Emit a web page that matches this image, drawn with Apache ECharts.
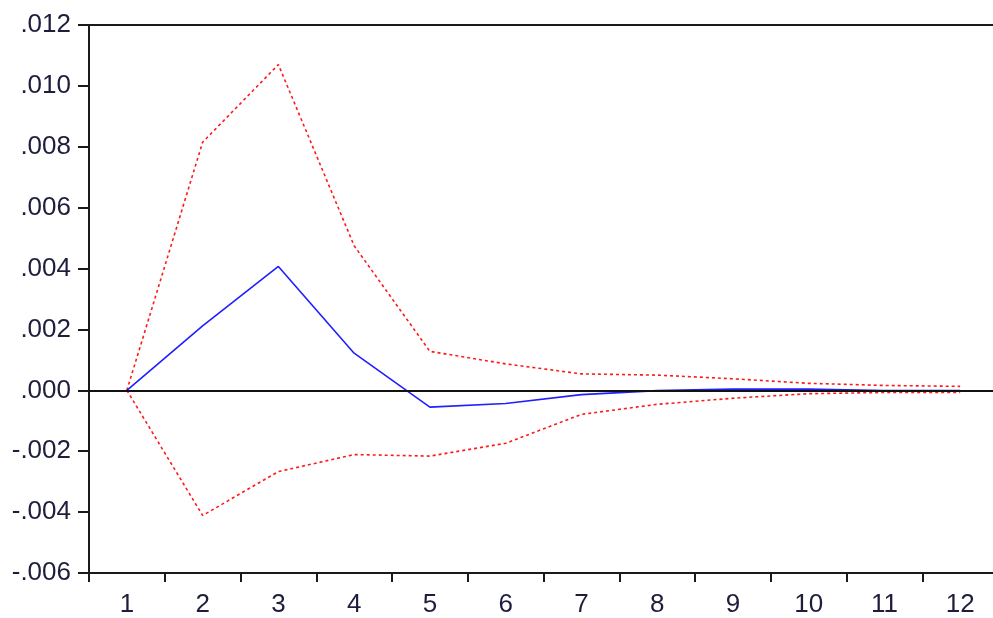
<!DOCTYPE html>
<html>
<head>
<meta charset="utf-8">
<script src="https://cdn.jsdelivr.net/npm/echarts@6/dist/echarts.min.js"></script>
<style>
  html, body { margin: 0; padding: 0; background: #fff; }
  #chart { width: 993px; height: 618px; }
</style>
</head>
<body>
<div id="chart"></div>
<script>
const periods = ['1', '2', '3', '4', '5', '6', '7', '8', '9', '10', '11', '12'];
const response = [0, 0.00212, 0.00407, 0.00122, -0.00055, -0.00043, -0.00014, -0.00001, 0.00004, 0.00004, -0.00001, -0.00001];
const upperBand = [0, 0.00815, 0.01070, 0.00475, 0.00128, 0.00087, 0.00054, 0.00050, 0.00038, 0.00023, 0.00016, 0.00013];
const lowerBand = [0, -0.00411, -0.00267, -0.00211, -0.00216, -0.00174, -0.00079, -0.00046, -0.00026, -0.00011, -0.00007, -0.00007];

let myChart = echarts.init(document.getElementById('chart'));

const dotted = {
    type: 'line',
    symbol: 'none',
    silent: true,
    lineStyle: { color: '#ff1a1a', width: 1.6, type: [3, 3] }
};

myChart.setOption({
    animation: false,
    backgroundColor: '#ffffff',
    textStyle: { fontFamily: 'Liberation Sans, Arial, sans-serif' },
    grid: {
        left: 89,
        top: 25,
        width: 909,
        bottom: 45,
        outerBoundsMode: 'none',
        containLabel: false,
        show: true,
        borderColor: '#1a1a1a',
        borderWidth: 2
    },
    xAxis: {
        type: 'category',
        data: periods,
        boundaryGap: true,
        axisLine: { onZero: false, lineStyle: { color: '#1a1a1a', width: 2 } },
        axisTick: { show: true, length: 9, interval: 0, lineStyle: { color: '#1a1a1a', width: 2 } },
        axisLabel: { interval: 0, fontSize: 26, color: '#1e1e3c', margin: 19 },
        splitLine: { show: false }
    },
    yAxis: {
        type: 'value',
        min: -0.006,
        max: 0.012,
        interval: 0.002,
        axisLine: { show: true, lineStyle: { color: '#1a1a1a', width: 2 } },
        axisTick: { show: true, length: 11, lineStyle: { color: '#1a1a1a', width: 2 } },
        axisLabel: {
            fontSize: 26,
            color: '#1e1e3c',
            margin: 18,
            formatter(val) {
                return val.toFixed(3).replace('0.', '.');
            }
        },
        splitLine: { show: false }
    },
    series: [
        {
            ...dotted,
            name: 'upper',
            data: upperBand
        },
        {
            ...dotted,
            name: 'lower',
            data: lowerBand
        },
        {
            name: 'response',
            type: 'line',
            symbol: 'none',
            silent: true,
            data: response,
            lineStyle: { color: '#1f1fff', width: 1.6 },
            markLine: {
                silent: true,
                symbol: 'none',
                label: { show: false },
                lineStyle: { color: '#111111', width: 2, type: 'solid' },
                data: [{ yAxis: 0 }]
            },
            z: 3
        }
    ]
});
</script>
</body>
</html>
